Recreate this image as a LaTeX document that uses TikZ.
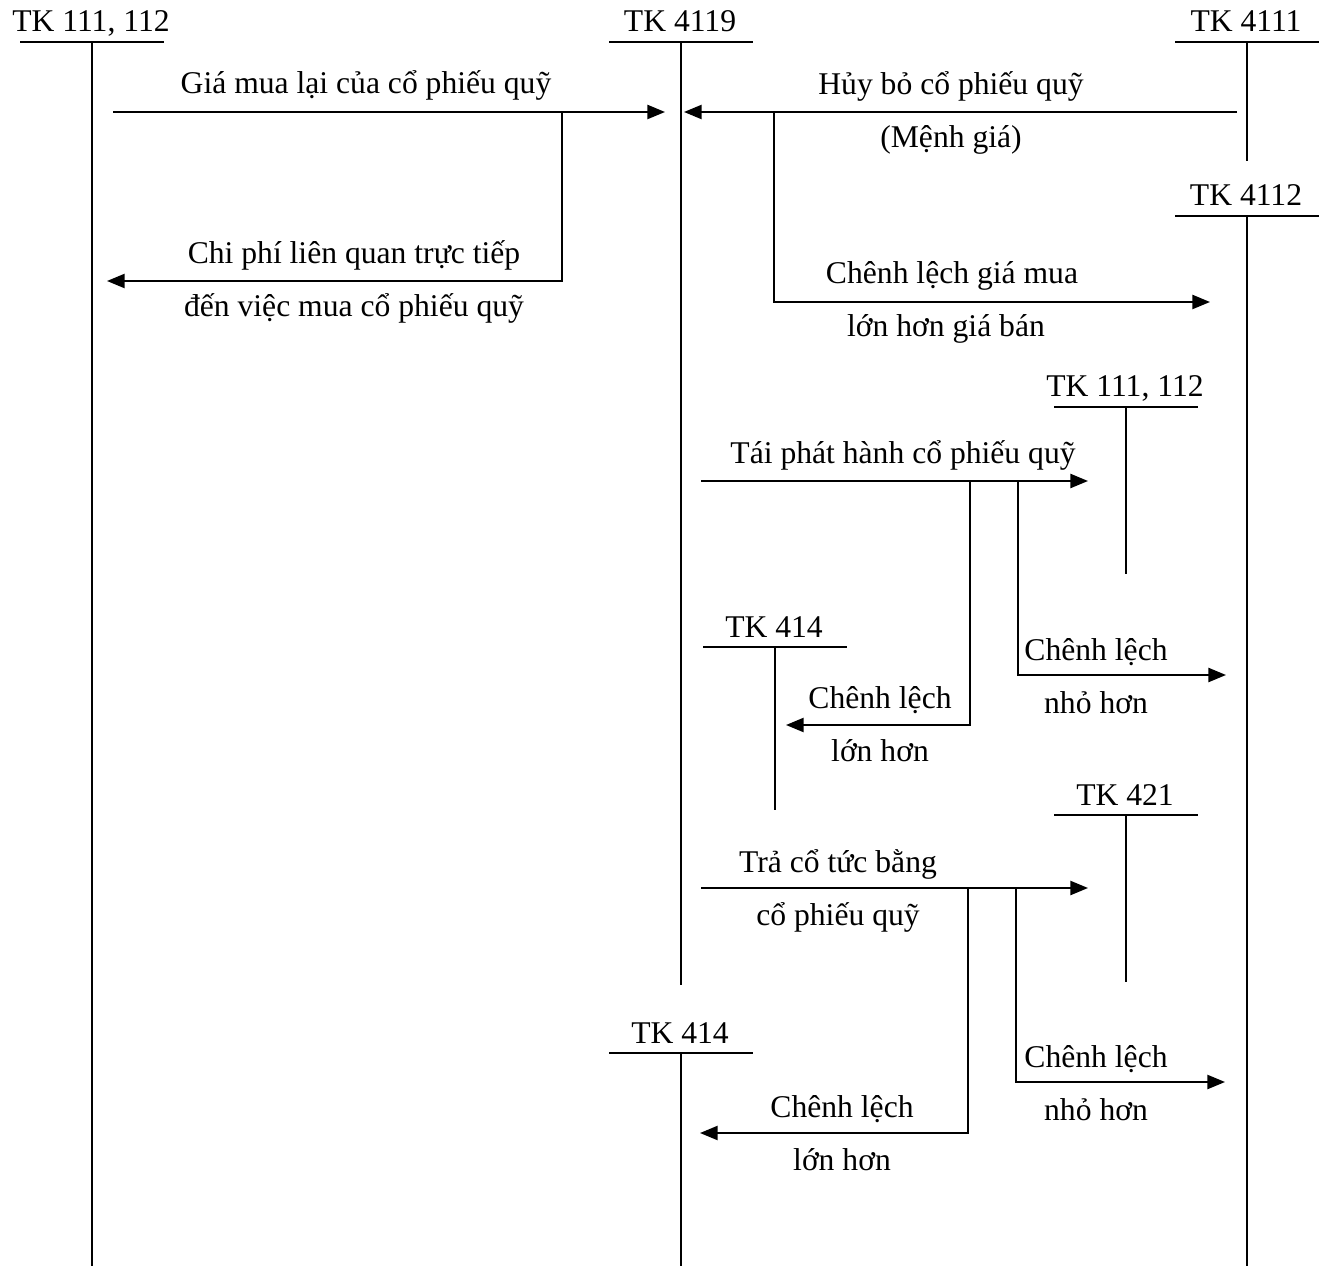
\documentclass[tikz,border=0pt]{standalone}
\usepackage{fontspec}
\setmainfont{Liberation Serif}
\usetikzlibrary{arrows.meta}

\begin{document}
\begin{tikzpicture}[x=0.02cm, y=-0.02cm, line width=1.1pt, >={Triangle[length=10pt,width=8pt]}, every node/.style={font=\fontsize{18}{21}\selectfont, inner sep=0pt, anchor=base}]
\useasboundingbox (0,0) rectangle (1321,1266);
% T accounts: name/label/line x/bar y/line end
\foreach \n/\tx/\xm/\yb/\ye in {tkA/{TK 111, 112}/92/42/1266, tkB/{TK 4119}/681/42/985, tkC/{TK 4111}/1247/42/161, tkD/{TK 4112}/1247/216/1266, tkE/{TK 111, 112}/1126/407/574, tkF/{TK 414}/775/647/810, tkG/{TK 421}/1126/815/982, tkH/{TK 414}/681/1053/1266} {
  \node (\n) at (\xm-1,\yb-10) {\tx};
  \coordinate (\n-top) at (\xm,\yb);
  \coordinate (\n-end) at (\xm,\ye);
  \draw (\xm-72,\yb) -- (\xm+72,\yb);
  \draw (\n-top) -- (\n-end);
}
% arrow ends
\coordinate (a1s) at (113,112);  \coordinate (a1e) at (665,112);
\coordinate (a2s) at (562,112);  \coordinate (a2e) at (107,281);
\coordinate (a3s) at (1237,112); \coordinate (a3e) at (684,112);
\coordinate (a4s) at (774,112);  \coordinate (a4e) at (1210,302);
\coordinate (a5s) at (701,481);  \coordinate (a5e) at (1088,481);
\coordinate (a6s) at (970,481);  \coordinate (a6e) at (786,725);
\coordinate (a7s) at (1018,481); \coordinate (a7e) at (1226,675);
\coordinate (a8s) at (701,888);  \coordinate (a8e) at (1088,888);
\coordinate (a9s) at (968,888);  \coordinate (a9e) at (700,1133);
\coordinate (a10s) at (1016,888); \coordinate (a10e) at (1225,1082);
\foreach \s/\e in {a1s/a1e,a2s/a2e,a3s/a3e,a4s/a4e,a5s/a5e,a6s/a6e,a7s/a7e,a8s/a8e,a9s/a9e,a10s/a10e}
  \draw[->] (\s) |- (\e);
% texts
\node (t1) at (366,94) {Giá mua lại của cổ phiếu quỹ};
\node (t2a) at (354,264) {Chi phí liên quan trực tiếp};
\node (t2b) at (354,317) {đến việc mua cổ phiếu quỹ};
\node (t3a) at (951,95) {Hủy bỏ cổ phiếu quỹ};
\node (t3b) at (951,148) {(Mệnh giá)};
\node (t4a) at (952,284) {Chênh lệch giá mua};
\node (t4b) at (946,337) {lớn hơn giá bán};
\node (t5) at (903,464) {Tái phát hành cổ phiếu quỹ};
\node (t6a) at (880,708) {Chênh lệch};
\node (t6b) at (880,761) {lớn hơn};
\node (t7a) at (1096,660) {Chênh lệch};
\node (t7b) at (1096,713) {nhỏ hơn};
\node (t8a) at (838,872) {Trả cổ tức bằng};
\node (t8b) at (838,925) {cổ phiếu quỹ};
\node (t9a) at (842,1117) {Chênh lệch};
\node (t9b) at (842,1170) {lớn hơn};
\node (t10a) at (1096,1067) {Chênh lệch};
\node (t10b) at (1096,1120) {nhỏ hơn};
\end{tikzpicture}
\end{document}
